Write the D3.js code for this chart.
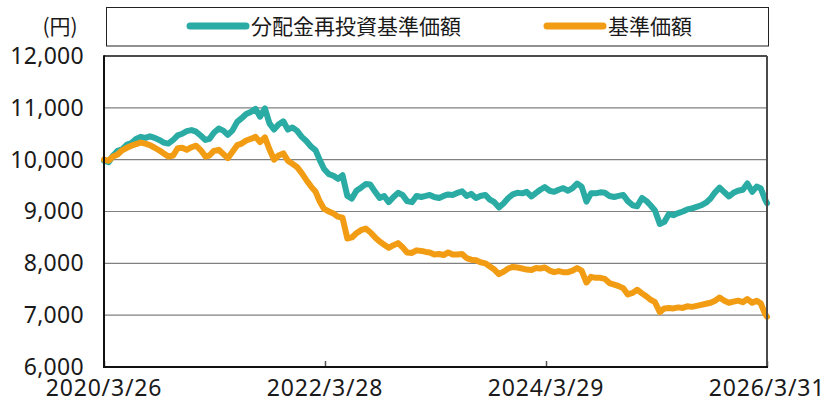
<!DOCTYPE html>
<html>
<head>
<meta charset="utf-8">
<script src="https://cdn.jsdelivr.net/npm/d3@7"></script>
<style>
  body { margin: 0; background: #fff; }
  svg { display: block; }
</style>
</head>
<body>
<svg id="chart" width="824" height="400"></svg>
<script>
// data

var dates = [
  "2020-03-26",
  "2020-04-10","2020-04-25","2020-05-10","2020-05-25","2020-06-10","2020-06-25",
  "2020-07-10","2020-07-25","2020-08-10","2020-08-25","2020-09-10","2020-09-25",
  "2020-10-10","2020-10-25","2020-11-10","2020-11-25","2020-12-10","2020-12-25",
  "2021-01-10","2021-01-25","2021-02-10","2021-02-25","2021-03-10","2021-03-25",
  "2021-04-10","2021-04-25","2021-05-10","2021-05-25","2021-06-10","2021-06-25",
  "2021-07-10","2021-07-25","2021-08-10","2021-08-25","2021-09-10","2021-09-25",
  "2021-10-10","2021-10-25","2021-11-10","2021-11-25","2021-12-10","2021-12-25",
  "2022-01-10","2022-01-25","2022-02-10","2022-02-25","2022-03-10","2022-03-25",
  "2022-04-10","2022-04-25","2022-05-10","2022-05-25","2022-06-10","2022-06-25",
  "2022-07-10","2022-07-25","2022-08-10","2022-08-25","2022-09-10","2022-09-25",
  "2022-10-10","2022-10-25","2022-11-10","2022-11-25","2022-12-10","2022-12-25",
  "2023-01-10","2023-01-25","2023-02-10","2023-02-25","2023-03-10","2023-03-25",
  "2023-04-10","2023-04-25","2023-05-10","2023-05-25","2023-06-10","2023-06-25",
  "2023-07-10","2023-07-25","2023-08-10","2023-08-25","2023-09-10","2023-09-25",
  "2023-10-10","2023-10-25","2023-11-10","2023-11-25","2023-12-10","2023-12-25",
  "2024-01-10","2024-01-25","2024-02-10","2024-02-25","2024-03-10","2024-03-25",
  "2024-04-10","2024-04-25","2024-05-10","2024-05-25","2024-06-10","2024-06-25",
  "2024-07-10","2024-07-25","2024-08-10","2024-08-25","2024-09-10","2024-09-25",
  "2024-10-10","2024-10-25","2024-11-10","2024-11-25","2024-12-10","2024-12-25",
  "2025-01-10","2025-01-25","2025-02-10","2025-02-25","2025-03-10","2025-03-25",
  "2025-04-10","2025-04-25","2025-05-10","2025-05-25","2025-06-10","2025-06-25",
  "2025-07-10","2025-07-25","2025-08-10","2025-08-25","2025-09-10","2025-09-25",
  "2025-10-10","2025-10-25","2025-11-10","2025-11-25","2025-12-10","2025-12-25",
  "2026-01-10","2026-01-25","2026-02-10","2026-02-25","2026-03-10","2026-03-25",
  "2026-03-31"
];

// 分配金再投資基準価額
var reinvested = [
  9980,
  9950,10080,10170,10200,10290,10320,10400,10440,10420,10450,10420,10380,
  10330,10310,10380,10470,10500,10550,10570,10540,10460,10380,10400,10520,
  10600,10560,10480,10560,10730,10800,10880,10920,10980,10830,10990,10700,
  10580,10680,10740,10580,10620,10560,10440,10360,10250,10180,10000,9820,
  9720,9690,9630,9700,9300,9250,9400,9460,9530,9520,9380,9260,
  9300,9180,9280,9360,9320,9200,9180,9300,9280,9300,9320,9280,
  9260,9300,9330,9320,9360,9390,9300,9340,9260,9300,9320,9230,
  9180,9080,9160,9260,9330,9360,9350,9380,9290,9360,9420,9470,
  9400,9380,9420,9450,9400,9450,9540,9480,9190,9350,9350,9370,
  9360,9300,9280,9300,9320,9200,9120,9100,9260,9200,9120,9020,
  8760,8800,8950,8930,8970,9000,9040,9060,9090,9120,9170,9250,
  9370,9460,9370,9290,9360,9400,9420,9540,9380,9480,9450,9230,
  9160
];

// 基準価額
var nav = [
  10000,
  9980,10060,10100,10180,10230,10270,10300,10330,10310,10280,10230,10180,
  10120,10060,10080,10220,10230,10190,10240,10270,10180,10060,10080,10170,
  10190,10110,10030,10150,10280,10310,10370,10400,10440,10340,10430,10200,
  10000,10080,10120,9980,9920,9860,9740,9610,9480,9380,9200,9050,
  9000,8960,8900,8880,8480,8500,8580,8640,8670,8600,8500,8420,
  8360,8300,8350,8390,8310,8210,8200,8250,8240,8220,8210,8170,
  8180,8160,8210,8170,8170,8180,8100,8070,8060,8020,8000,7940,
  7880,7790,7840,7900,7930,7920,7900,7880,7870,7910,7900,7920,
  7860,7830,7850,7830,7830,7860,7910,7860,7630,7740,7720,7720,
  7700,7620,7590,7560,7520,7400,7430,7490,7420,7360,7300,7250,
  7060,7130,7140,7130,7150,7140,7170,7160,7180,7200,7220,7240,
  7280,7340,7280,7240,7260,7280,7250,7310,7240,7280,7230,7020,
  6970
];

var yTicks = [6000, 7000, 8000, 9000, 10000, 11000, 12000];
var xTickDates = ["2020-03-26", "2022-03-28", "2024-03-29", "2026-03-31"];
var seriesNames = ["分配金再投資基準価額", "基準価額"];
var seriesColors = ["#2aaca5", "#f29c14"];

// layout

var svg = d3.select("#chart");

var plotLeft = 104, plotRight = 767, plotTop = 56, plotBottom = 367;

var parseDate = d3.timeParse("%Y-%m-%d");

var x = d3.scaleTime()
          .domain([parseDate(xTickDates[0]), parseDate(xTickDates[3])])
          .range([plotLeft, plotRight]);

var y = d3.scaleLinear()
          .domain([6000, 12000])
          .range([plotBottom, plotTop]);

var numFont = "'Noto Sans', 'DejaVu Sans', sans-serif";
var cjkFont = "'Noto Sans CJK JP', sans-serif";

// grid lines
svg.append("g")
   .selectAll("line")
   .data(yTicks.slice(1, -1))
   .join("line")
   .attr("x1", plotLeft)
   .attr("x2", plotRight)
   .attr("y1", d => y(d))
   .attr("y2", d => y(d))
   .attr("stroke", "#808080")
   .attr("stroke-width", 1.2);

// y axis labels
const gYAxis = svg.append("g")
                  .attr("transform", `translate(${plotLeft}, 0)`)
                  .call(d3.axisLeft(y)
                          .tickValues(yTicks)
                          .tickSize(0)
                          .tickPadding(20)
                          .tickFormat(d3.format(",")));
gYAxis.select(".domain").remove();
gYAxis.selectAll("text")
      .attr("font-family", numFont)
      .attr("font-size", 23)
      .attr("letter-spacing", 0.3)
      .attr("fill", "#1a1a1a");

// x axis: small inner ticks + labels below
const gXAxis = svg.append("g")
                  .attr("transform", `translate(0, ${plotBottom})`)
                  .call(d3.axisTop(x)
                          .tickValues(xTickDates.map(parseDate))
                          .tickSize(6)
                          .tickFormat(""));
gXAxis.select(".domain").remove();
gXAxis.selectAll("line").attr("stroke", "#555").attr("stroke-width", 1.5);

svg.append("g")
   .selectAll("text")
   .data(xTickDates)
   .join("text")
   .attr("x", d => x(parseDate(d)))
   .attr("y", 396)
   .attr("text-anchor", "middle")
   .attr("font-family", numFont)
   .attr("font-size", 23)
   .attr("letter-spacing", 0.8)
   .attr("fill", "#1a1a1a")
   .text(d => { var p = d.split("-"); return +p[0] + "/" + (+p[1]) + "/" + (+p[2]); });

// unit label
svg.append("text")
   .attr("x", 60)
   .attr("y", 34)
   .attr("text-anchor", "middle")
   .attr("font-family", cjkFont)
   .attr("font-size", 21)
   .attr("fill", "#1a1a1a")
   .text("(円)");

// lines
var rows = [reinvested, nav].map(vals => dates.map((d, i) => ({date: parseDate(d), value: vals[i]})));

var line = d3.line()
             .x(d => x(d.date))
             .y(d => y(d.value));

svg.append("g")
   .selectAll("path")
   .data(rows)
   .join("path")
   .attr("d", line)
   .attr("fill", "none")
   .attr("stroke", (d, i) => seriesColors[i])
   .attr("stroke-width", 6)
   .attr("stroke-linejoin", "round")
   .attr("stroke-linecap", "round");

// plot frame
svg.append("line").attr("x1", plotLeft).attr("x2", plotRight).attr("y1", plotTop).attr("y2", plotTop)
   .attr("stroke", "#111").attr("stroke-width", 1.5);
svg.append("line").attr("x1", plotRight).attr("x2", plotRight).attr("y1", plotTop).attr("y2", plotBottom)
   .attr("stroke", "#4a4a4a").attr("stroke-width", 2);
svg.append("line").attr("x1", plotLeft).attr("x2", plotLeft).attr("y1", plotTop - 0.75).attr("y2", plotBottom + 1)
   .attr("stroke", "#111").attr("stroke-width", 2);
svg.append("line").attr("x1", plotLeft - 1).attr("x2", plotRight + 1).attr("y1", plotBottom).attr("y2", plotBottom)
   .attr("stroke", "#111").attr("stroke-width", 2);

// legend
var legend = svg.append("g");
legend.append("rect")
      .attr("x", 106.5)
      .attr("y", 7.5)
      .attr("width", 662)
      .attr("height", 38.5)
      .attr("fill", "#fff")
      .attr("stroke", "#222")
      .attr("stroke-width", 1);

var legendX = [190, 547];
var legendItems = legend.selectAll("g.item")
                        .data(seriesNames)
                        .join("g")
                        .attr("class", "item")
                        .attr("transform", (d, i) => `translate(${legendX[i]}, 26)`);

legendItems.append("line")
           .attr("x1", 0)
           .attr("x2", 56)
           .attr("stroke", (d, i) => seriesColors[i])
           .attr("stroke-width", 7)
           .attr("stroke-linecap", "round");

legendItems.append("text")
           .attr("x", 61)
           .attr("y", 8)
           .attr("font-family", cjkFont)
           .attr("font-size", 21)
           .attr("fill", "#1a1a1a")
           .text(d => d);
</script>
</body>
</html>
